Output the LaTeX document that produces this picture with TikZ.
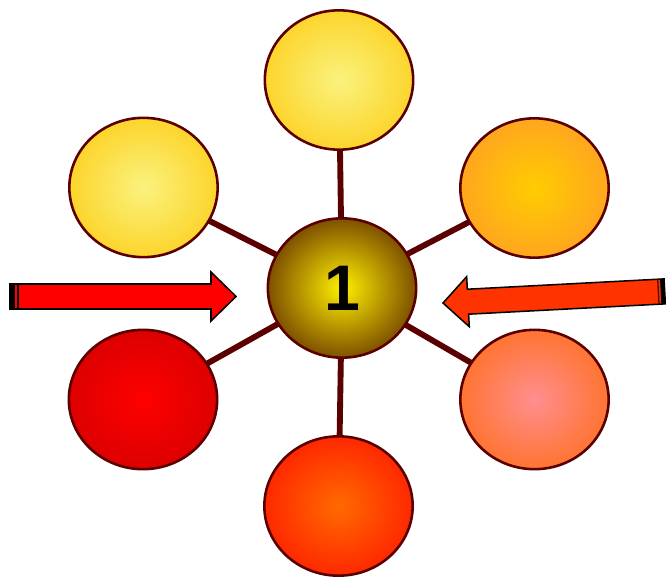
\documentclass[tikz,border=0pt]{standalone}
\usepackage{fontspec}
\setmainfont{Liberation Sans}
\usepackage{tikz}
\usetikzlibrary{
	shapes.geometric,
	backgrounds
}

\definecolor{rim}{HTML}{5A0000}
\definecolor{goldin}{HTML}{FAF27E}
\definecolor{goldout}{HTML}{FCD52C}
\definecolor{ambin}{HTML}{FFCC00}
\definecolor{ambout}{HTML}{FFA61E}
\definecolor{redin}{HTML}{FF0000}
\definecolor{redout}{HTML}{DD0000}
\definecolor{pinkin}{HTML}{FF8E8E}
\definecolor{pinkout}{HTML}{FF7432}
\definecolor{orin}{HTML}{FF6A00}
\definecolor{orout}{HTML}{FF2800}
\definecolor{hubin}{HTML}{FFF000}
\definecolor{hubout}{HTML}{7E5000}
\definecolor{arrowl}{HTML}{FF0000}
\definecolor{arrowr}{HTML}{FF3300}

\begin{document}
\begin{tikzpicture}[
			x=0.03cm, y=-0.03cm,
			bubble/.style={draw=rim, line width=2.2pt, ellipse, inner sep=0pt, minimum width=4.45cm, minimum height=4.18cm},
			spoke/.style={draw=rim, line width=5pt},
			block/.style={draw=black, line width=1.3pt, line join=miter}
		]

		\useasboundingbox (0,0) rectangle (666,578);

		% hub and satellites
		\node[bubble, inner color=hubin, outer color=hubout] (hub) at (342,288) {\fontsize{55}{55}\selectfont\bfseries 1};
		\node[bubble, inner color=goldin, outer color=goldout] (top) at (339,80) {};
		\node[bubble, inner color=goldin, outer color=goldout] (tl) at (143.5,187.5) {};
		\node[bubble, inner color=ambin, outer color=ambout] (tr) at (534.5,188) {};
		\node[bubble, inner color=redin, outer color=redout] (bl) at (143,399.5) {};
		\node[bubble, inner color=pinkin, outer color=pinkout] (br) at (534.5,399.5) {};
		\node[bubble, inner color=orin, outer color=orout] (bot) at (338.5,506) {};

		\begin{scope}[on background layer]
			\foreach \s in {top,tl,tr,bl,br,bot}
				\draw[spoke] (hub.center) -- (\s.center);
		\end{scope}

		% left block arrow
		\filldraw[block, fill=arrowl] (10,284) -- (211,284) -- (211,272) -- (236,296.5) -- (211,321) -- (211,309) -- (10,309) -- cycle;
		\fill[black] (10,284) rectangle (15,309);
		\fill[black] (16.7,284) rectangle (19,309);

		% right block arrow
		\begin{scope}[shift={(443,303)}, rotate=3]
			\filldraw[block, fill=arrowr] (0,0) -- (25,-25) -- (25,-12.5) -- (222,-12.5) -- (222,12.5) -- (25,12.5) -- (25,25) -- cycle;
			\fill[black] (218,-12.5) rectangle (222,12.5);
			\fill[black!70!arrowr] (215,-12.5) rectangle (216.3,12.5);
		\end{scope}
	\end{tikzpicture}
\end{document}
